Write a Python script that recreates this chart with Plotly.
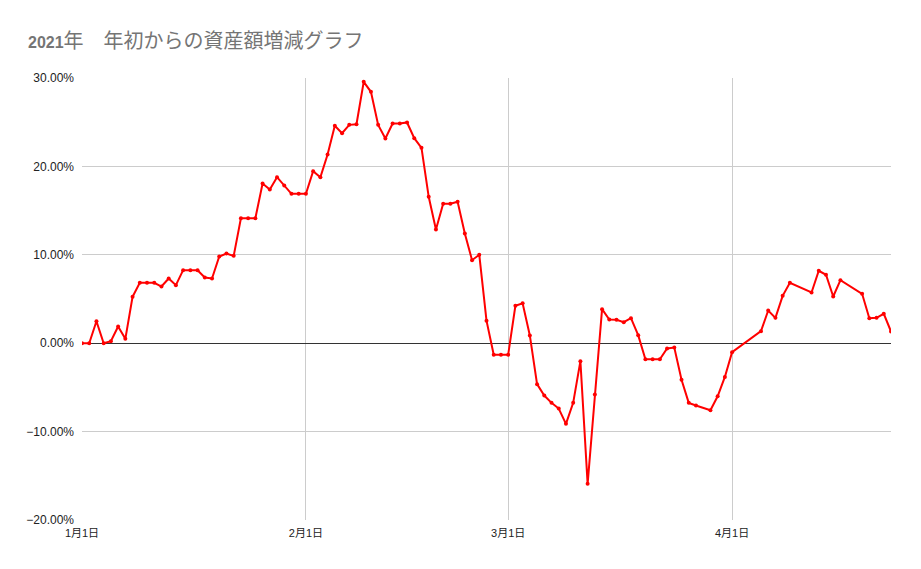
import plotly.graph_objects as go

# Dates (2021) of each recorded value
dates_jan = [f"2021-01-{d:02d}" for d in range(1, 32)]
dates_feb = [f"2021-02-{d:02d}" for d in range(1, 29)]
dates_mar = [f"2021-03-{d:02d}" for d in list(range(1, 28)) + [29, 30, 31]]
dates_apr = ["2021-04-01", "2021-04-05", "2021-04-06", "2021-04-07", "2021-04-08",
             "2021-04-09", "2021-04-12", "2021-04-13", "2021-04-14", "2021-04-15",
             "2021-04-16", "2021-04-19", "2021-04-20", "2021-04-21", "2021-04-22",
             "2021-04-23"]

# Change since start of year (%)
values_jan = [0.00, 0.00, 2.49, 0.00, 0.23, 1.89, 0.49, 5.25, 6.83, 6.83,
              6.83, 6.41, 7.32, 6.56, 8.26, 8.26, 8.26, 7.43, 7.32, 9.81,
              10.15, 9.88, 14.14, 14.14, 14.14, 18.07, 17.39, 18.78, 17.84, 16.90,
              16.90]
values_feb = [16.90, 19.46, 18.78, 21.35, 24.59, 23.76, 24.70, 24.77, 29.57, 28.44,
              24.70, 23.16, 24.85, 24.85, 24.97, 23.19, 22.10, 16.56, 12.86, 15.77,
              15.77, 16.00, 12.41, 9.39, 10.00, 2.55, -1.31, -1.31]
values_mar = [-1.31, 4.23, 4.52, 0.88, -4.63, -5.92, -6.75, -7.39, -9.12, -6.75,
              -2.03, -15.91, -5.80, 3.85, 2.68, 2.64, 2.38, 2.83, 0.91, -1.81,
              -1.81, -1.81, -0.60, -0.49, -4.14, -6.75, -7.05,
              -7.58, -6.00, -3.82]
values_apr = [-1.02, 1.36, 3.70, 2.87, 5.36, 6.83, 5.74, 8.19, 7.74, 5.28,
              7.13, 5.59, 2.83, 2.87, 3.33, 1.32]

dates = dates_jan + dates_feb + dates_mar + dates_apr
values = [v / 100 for v in values_jan + values_feb + values_mar + values_apr]

tick_dates = ["2021-01-01", "2021-02-01", "2021-03-01", "2021-04-01"]
tick_labels = ["1月1日", "2月1日", "3月1日", "4月1日"]

title_text = ("<b><span style='font-size:16px'>2021</span></b>"
              "年　年初からの資産額増減グラフ")

font_family = "Liberation Sans, Arial, Noto Sans CJK JP, sans-serif"

fig = go.Figure()
fig.add_trace(go.Scatter(
    x=dates, y=values, mode="lines+markers",
    line=dict(color="#ff0000", width=2),
    marker=dict(color="#ff0000", size=4),
    showlegend=False,
))

fig.update_layout(
    width=921, height=569,
    paper_bgcolor="white", plot_bgcolor="white",
    margin=dict(l=82, r=30, t=78, b=49),
    font=dict(family=font_family, size=12, color="#222222"),
    title=dict(text=title_text, x=28 / 921, xanchor="left", xref="container",
               y=1 - 41 / 569, yanchor="middle", yref="container",
               font=dict(family=font_family, size=20, color="#757575")),
)

fig.update_xaxes(
    type="date", range=[dates[0], dates[-1]],
    tickvals=tick_dates, ticktext=tick_labels,
    showgrid=True, gridcolor="#cccccc", gridwidth=1,
    zeroline=False, showline=False, ticks="",
    ticklabelstandoff=5,
    tickfont=dict(size=11, color="#222222"),
)
fig.update_yaxes(
    range=[-0.2, 0.3], dtick=0.1, tick0=0, tickformat=".2%",
    showgrid=True, gridcolor="#cccccc", gridwidth=1,
    zeroline=True, zerolinecolor="#333333", zerolinewidth=1,
    showline=False, ticks="",
    ticklabelstandoff=7,
    tickfont=dict(size=12, color="#222222"),
)

fig.write_html("out.html", config={"displayModeBar": False},
               post_script="document.body.style.margin='0';")
